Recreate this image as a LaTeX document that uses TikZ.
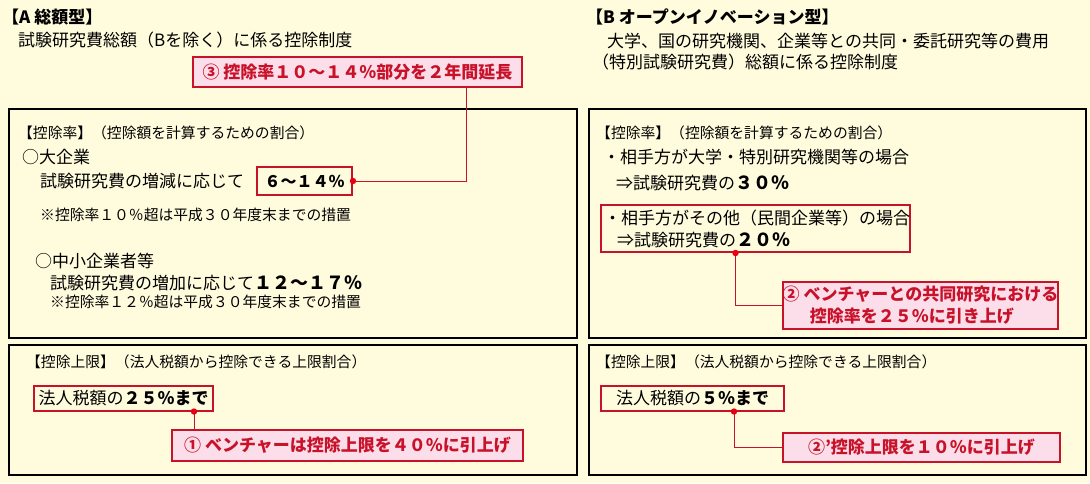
\documentclass[tikz,border=0pt]{standalone}
\usepackage{fontspec}
\setmainfont{Noto Sans CJK JP}
\definecolor{bgyellow}{RGB}{255,252,222}
\definecolor{boxred}{RGB}{200,18,42}
\definecolor{notepink}{RGB}{252,222,234}
\definecolor{dotred}{RGB}{230,0,18}
\tikzset{
  panel/.style={draw=black, line width=2.5pt},
  txt/.style={anchor=west, inner sep=0pt, font=\fontsize{17}{22}\selectfont},
  hdr/.style={anchor=west, inner sep=0pt, font=\fontsize{14.8}{18}\selectfont},
  redbox/.style={draw=boxred, line width=2pt, inner sep=0pt, font=\fontsize{17}{22}\selectfont},
  pinkbox/.style={draw=boxred, fill=notepink, line width=2pt, inner sep=0pt, text=boxred, font=\fontsize{17}{22}\selectfont\bfseries},
  link/.style={draw=boxred, line width=1pt},
}
\newcommand{\reddot}[1]{\fill[dotred] #1 circle (3.2pt);}
\begin{document}
\begin{tikzpicture}[x=1pt, y=-1pt]
    % 背景
    \fill[bgyellow] (0,0) rectangle (1090,483);
    \useasboundingbox (0,0) rectangle (1090,483);

    % 枠
    \draw[panel] (9,109) rectangle (577,338);
    \draw[panel] (589,109) rectangle (1086,338);
    \draw[panel] (9,345) rectangle (577,475);
    \draw[panel] (589,345) rectangle (1086,475);

    % A 総額型
    \node[txt] (aTitle) at (2,17) {\bfseries 【A 総額型】};
    \node[txt] (aSub) at (18,40) {試験研究費総額（Bを除く）に係る控除制度};
    \node[pinkbox, minimum width=329pt, minimum height=30pt] (ext3) at (357.5,72) {③ 控除率１０～１４％部分を２年間延長};

    \node[hdr] (aRate) at (18,133) {【控除率】（控除額を計算するための割合）};
    \node[txt] (aLarge) at (22,157) {○大企業};
    \node[txt] (aLargeTxt) at (40,181) {試験研究費の増減に応じて};
    \node[redbox, minimum width=95pt, minimum height=28pt, font=\fontsize{16}{20}\selectfont\bfseries] (rateLarge) at (304.5,181) {６～１４％};
    \node[hdr] (aNote1) at (40,215) {※控除率１０％超は平成３０年度末までの措置};
    \node[txt] (aSmall) at (35,261) {○中小企業者等};
    \node[txt] (aSmallTxt) at (50,283) {試験研究費の増加に応じて{\fontsize{18}{22}\selectfont\bfseries １２～１７％}};
    \node[hdr] (aNote2) at (50,302) {※控除率１２％超は平成３０年度末までの措置};

    \node[hdr] (aLim) at (26,362) {【控除上限】（法人税額から控除できる上限割合）};
    \node[redbox, minimum width=179pt, minimum height=25pt] (limA) at (123.5,398) {法人税額の{\bfseries ２５％まで}};
    \node[pinkbox, minimum width=351pt, minimum height=31pt] (ext1) at (347.5,445.5) {① ベンチャーは控除上限を４０％に引上げ};

    % B オープンイノベーション型
    \node[txt] (bTitle) at (586,17) {\bfseries 【B オープンイノベーション型】};
    \node[txt] (bSub1) at (607,41) {大学、国の研究機関、企業等との共同・委託研究等の費用};
    \node[txt] (bSub2) at (592,62) {（特別試験研究費）総額に係る控除制度};

    \node[hdr] (bRate) at (596,133) {【控除率】（控除額を計算するための割合）};
    \node[txt] (bUniv) at (603,157) {・相手方が大学・特別研究機関等の場合};
    \node[txt] (bUnivTxt) at (616,183) {⇒試験研究費の{\fontsize{18}{22}\selectfont\bfseries ３０％}};
    \node[redbox, anchor=north west, minimum width=308pt, minimum height=47pt, align=left] (rateOther) at (600,204)
        {\hspace*{3pt}・相手方がその他（民間企業等）の場合\\ \hspace*{16pt}⇒試験研究費の{\fontsize{18}{22}\selectfont\bfseries ２０％}};
    \node[pinkbox, minimum width=275pt, minimum height=47pt, align=left] (ext2) at (920.5,305.5)
        {② ベンチャーとの共同研究における\\ \hspace*{1.6em}控除率を２５％に引き上げ};

    \node[hdr] (bLim) at (596,362) {【控除上限】（法人税額から控除できる上限割合）};
    \node[redbox, minimum width=183pt, minimum height=25pt] (limB) at (692.5,398) {法人税額の{\bfseries ５％まで}};
    \node[pinkbox, minimum width=277pt, minimum height=29pt] (ext2b) at (921.5,447.5) {②’控除上限を１０％に引上げ};

    % 引出線
    \draw[link] ([xshift=108.5pt]ext3.south) |- (rateLarge.east);
    \reddot{(rateLarge.east)}
    \draw[link] ([xshift=70.5pt]limA.south) -- ([xshift=70.5pt]limA.south |- ext1.north);
    \reddot{([xshift=70.5pt]limA.south)}
    \draw[link] ([xshift=-20pt]rateOther.south) |- (ext2.west);
    \reddot{([xshift=-20pt]rateOther.south)}
    \draw[link] ([xshift=41.5pt]limB.south) |- (ext2b.west);
    \reddot{([xshift=41.5pt]limB.south)}
\end{tikzpicture}
\end{document}
